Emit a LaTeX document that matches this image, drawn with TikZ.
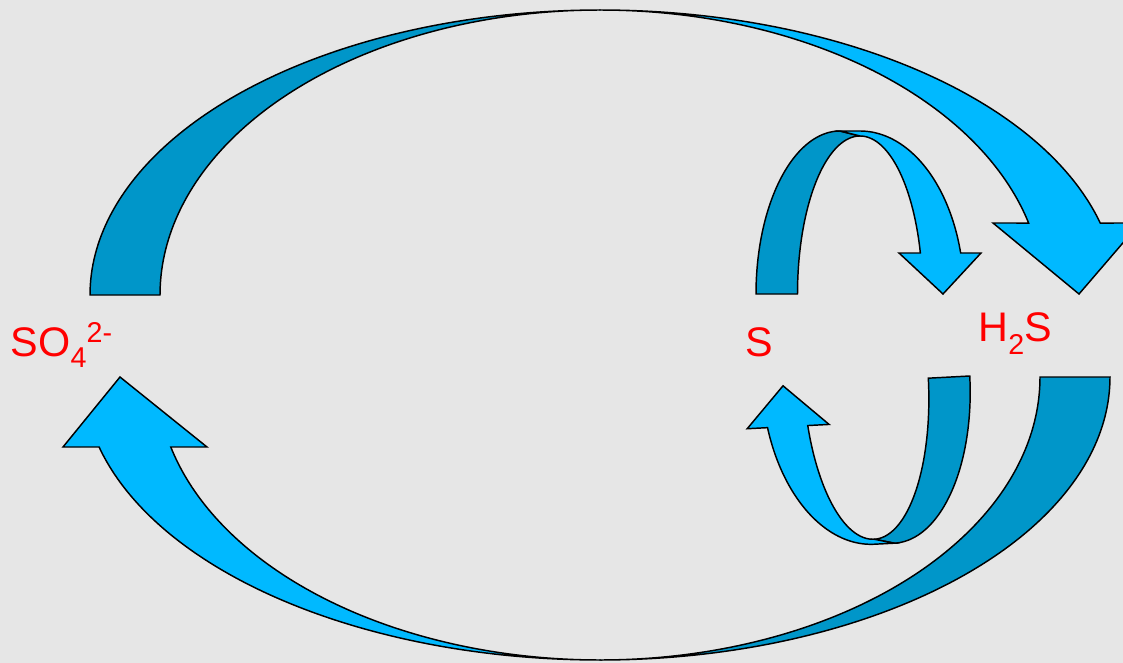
\documentclass[tikz,border=0pt]{standalone}
\usepackage{fontspec}
\setmainfont{Liberation Sans}
\definecolor{bggray}{RGB}{230,230,230}
\definecolor{lightblue}{RGB}{0,185,255}
\definecolor{darkblue}{RGB}{0,150,201}
\newcommand{\mainfs}{\fontsize{31}{31}\selectfont}
\newcommand{\subfs}{\fontsize{21.5}{21.5}\selectfont}
\begin{document}
\begin{tikzpicture}[x=0.75pt,y=-0.75pt,
  back/.style={fill=darkblue,draw=black,line width=1.1pt,line join=miter},
  front/.style={fill=lightblue,draw=black,line width=1.1pt,line join=miter},
  lbl/.style={text=red,inner sep=0pt,outer sep=0pt,anchor=base west,font=\mainfs},
  pl/.style={samples=90}]
\useasboundingbox (0,0) rectangle (1123,663);
\fill[bggray] (0,0) rectangle (1123,663);
\clip (0,0) rectangle (1123,663);

% large upper arrow (SO4 -> H2S)
\draw[back] plot[pl,domain=180:90] ({600+510*cos(\x)},{295-285*sin(\x)})
  -- plot[pl,domain=90:180] ({600+440*cos(\x)},{295-285*sin(\x)}) -- cycle;
\draw[front] plot[pl,domain=90:14.63] ({600+517*cos(\x)},{295-285*sin(\x)})
  -- (1140,223) -- (1079,294) -- (993,223)
  -- plot[pl,domain=14.63:90] ({600+443*cos(\x)},{295-285*sin(\x)}) -- cycle;

% large lower arrow (H2S -> SO4)
\draw[back] plot[pl,domain=0:-90] ({600+510*cos(\x)},{377-283*sin(\x)})
  -- plot[pl,domain=-90:0] ({600+440*cos(\x)},{377-283*sin(\x)}) -- cycle;
\draw[front] plot[pl,domain=270:194.32] ({600+517*cos(\x)},{377-283*sin(\x)})
  -- (63,447) -- (120,377) -- (207,447)
  -- plot[pl,domain=194.32:270] ({600+443*cos(\x)},{377-283*sin(\x)}) -- cycle;

% small upper arrow (S -> H2S)
\draw[back] plot[pl,domain=180:90] ({840+84*cos(\x)},{294-163*sin(\x)})
  -- plot[pl,domain=90:180] ({860+62.5*cos(\x)},{294-158*sin(\x)}) -- cycle;
\draw[front] (840,131) -- plot[pl,domain=90:14.57] ({860+104*cos(\x)},{294-163*sin(\x)})
  -- (981,253) -- (943,294) -- (899,253)
  -- plot[pl,domain=15.04:90] ({860+62.5*cos(\x)},{294-158*sin(\x)}) -- cycle;

% small lower arrow (H2S -> S)
\begin{scope}[rotate around={183:(861.8,337.8)}]
\draw[back] plot[pl,domain=180:90] ({840+84*cos(\x)},{294-163*sin(\x)})
  -- plot[pl,domain=90:180] ({860+62.5*cos(\x)},{294-158*sin(\x)}) -- cycle;
\draw[front] (840,131) -- plot[pl,domain=90:14.57] ({860+104*cos(\x)},{294-163*sin(\x)})
  -- (981,253) -- (943,294) -- (899,253)
  -- plot[pl,domain=15.04:90] ({860+62.5*cos(\x)},{294-158*sin(\x)}) -- cycle;
\end{scope}

% labels
\node[lbl] (so4) at (11,356) {SO{\subfs\raisebox{-8.5pt}{4}\raisebox{10pt}{2-}}};
\node[lbl] (s) at (745,356.5) {S};
\node[lbl] (h2s) at (978.5,341) {H{\subfs\raisebox{-9.75pt}{2}}S};
\end{tikzpicture}
\end{document}
